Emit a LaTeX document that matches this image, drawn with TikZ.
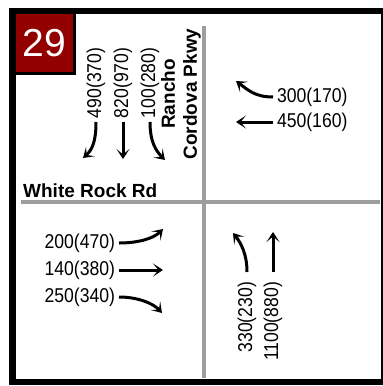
\documentclass[tikz,border=0pt]{standalone}
\usepackage{fontspec}
\setmainfont{Liberation Sans}
\usetikzlibrary{arrows.meta}
\definecolor{cbadge}{HTML}{930000}
\definecolor{croad}{HTML}{9E9E9E}
\tikzset{
  every picture/.style={x=1pt, y=-1pt},
  vol/.style={font=\fontsize{20}{22}\selectfont\addfontfeature{FakeStretch=0.88}, inner sep=0pt, outer sep=4pt},
  street/.style={font=\fontsize{19}{22}\selectfont\bfseries, inner sep=0pt, align=center},
  flow/.style={-{Stealth[length=10pt, width=13pt, inset=5.5pt]}, line width=3pt},
  road/.style={draw=croad, line width=4pt},
}

\begin{document}
\begin{tikzpicture}
  \useasboundingbox (0,0) rectangle (383,386);
  % frame and roads
  \fill[black] (9,8) rectangle (383,385);
  \fill[white] (16,14) rectangle (381,379);
  \draw[road] (204,26) -- (204,378);
  \draw[road] (21,202) -- (380,202);
  % badge
  \fill[black] (16,14) rectangle (76,75);
  \fill[cbadge] (16,14) rectangle (73,72);
  \node[text=white, font=\fontsize{39}{39}\selectfont] (num) at (44.5,43) {29};
  % street names
  \node[street, anchor=base west] (wrr) at (23,197) {White Rock Rd};
  \node[street, rotate=90] (rcp) at (181,94) {Rancho\\Cordova Pkwy};
  % southbound
  \node[vol, rotate=90, anchor=west] (t490) at (96,122) {490(370)};
  \node[vol, rotate=90, anchor=west] (t820) at (123,122) {820(970)};
  \node[vol, rotate=90, anchor=west] (t100) at (150,122) {100(280)};
  \coordinate (h490) at (83,158);
  \coordinate (h820) at (123,159);
  \coordinate (h100) at (165,160);
  \draw[flow] (t490.west) .. controls +(0,20) and +(9,-8) .. (h490);
  \draw[flow] (t820.west) -- (h820);
  \draw[flow] (t100.west) .. controls +(0,20) and +(-9,-9) .. (h100);
  % westbound
  \node[vol, anchor=west] (t300) at (273,97) {300(170)};
  \node[vol, anchor=west] (t450) at (273,122) {450(160)};
  \coordinate (h300) at (236,81);
  \coordinate (h450) at (236,122);
  \draw[flow] (t300.west) .. controls +(-18,0) and +(12,9) .. (h300);
  \draw[flow] (t450.west) -- (h450);
  % eastbound
  \node[vol, anchor=east] (t200) at (119,243) {200(470)};
  \node[vol, anchor=east] (t140) at (119,270) {140(380)};
  \node[vol, anchor=east] (t250) at (119,297) {250(340)};
  \coordinate (h200) at (163,229);
  \coordinate (h140) at (163,270);
  \coordinate (h250) at (162,313);
  \draw[flow] (t200.east) .. controls +(18,0) and +(-10,10) .. (h200);
  \draw[flow] (t140.east) -- (h140);
  \draw[flow] (t250.east) .. controls +(18,0) and +(-9,-10) .. (h250);
  % northbound
  \node[vol, rotate=90, anchor=east, outer sep=10pt] (t330) at (247,272) {330(230)};
  \node[vol, rotate=90, anchor=east, outer sep=10pt] (t1100) at (273,272) {1100(880)};
  \coordinate (h330) at (233,233);
  \coordinate (h1100) at (273,232);
  \draw[flow] (t330.east) .. controls +(0,-18) and +(8,10) .. (h330);
  \draw[flow] (t1100.east) -- (h1100);
\end{tikzpicture}
\end{document}
